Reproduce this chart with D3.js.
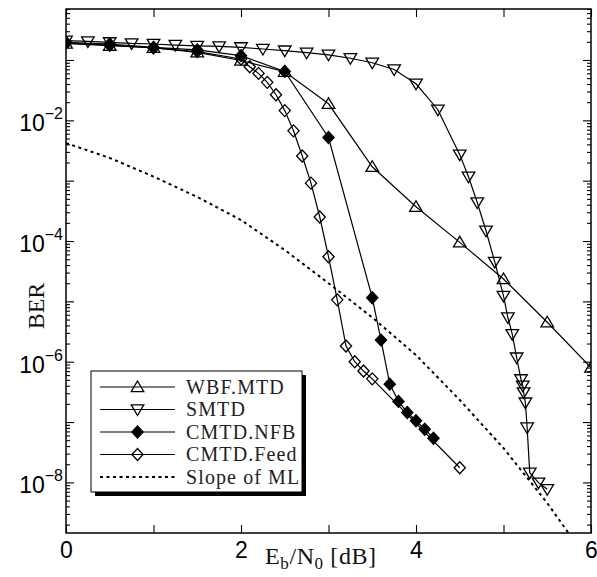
<!DOCTYPE html>
<html>
<head>
<meta charset="utf-8">
<script src="https://cdn.jsdelivr.net/npm/d3@7"></script>
<style>
  body { margin: 0; background: #fff; }
  svg { display: block; }
</style>
</head>
<body>
<div id="chart"></div>
<script>
// data (Eb/N0 in dB, BER)
const wbfSnr = [0, 0.5, 1, 1.5, 2, 2.5, 3, 3.5, 4, 4.5, 5, 5.5, 6];
const wbfBer = [0.188, 0.173, 0.16, 0.134, 0.098, 0.064, 0.0188, 1.7e-3, 3.7e-4, 9.5e-5, 2.35e-5, 4.5e-6, 8e-7];

const smtdSnr = [0, 0.25, 0.5, 0.75, 1, 1.25, 1.5, 1.75, 2, 2.25, 2.5, 2.75, 3, 3.25, 3.5, 3.75, 4, 4.25, 4.5,
  4.6, 4.7, 4.8, 4.9, 5.0, 5.05, 5.1, 5.15, 5.2, 5.22, 5.23, 5.25, 5.27, 5.3, 5.4, 5.5];
const smtdBer = [0.209, 0.203, 0.196, 0.188, 0.184, 0.177, 0.171, 0.168, 0.162, 0.152, 0.143, 0.132, 0.122, 0.107, 0.090, 0.0696, 0.0404, 0.015, 2.7e-3,
  1.16e-3, 4.35e-4, 1.48e-4, 4.5e-5, 1.23e-5, 5.4e-6, 2.86e-6, 1.17e-6, 5.1e-7, 4.0e-7, 3.1e-7, 2.1e-7, 8.1e-8, 1.45e-8, 9.9e-9, 7.7e-9];

const nfbSnr = [0, 0.5, 1, 1.5, 2, 2.5, 3, 3.5, 3.6, 3.7, 3.8, 3.9, 4.0, 4.1, 4.2];
const nfbBer = [0.196, 0.184, 0.162, 0.147, 0.118, 0.0647, 5.2e-3, 1.15e-5, 2.28e-6, 4.25e-7, 2.2e-7, 1.44e-7, 1.05e-7, 7.6e-8, 5.4e-8];

const feedSnr = [0, 0.5, 1, 1.5, 2, 2.1, 2.2, 2.3, 2.4, 2.5, 2.6, 2.7, 2.8, 2.9, 3.0, 3.1, 3.2, 3.3, 3.4, 3.5, 4.5];
const feedBer = [0.19, 0.176, 0.158, 0.138, 0.104, 0.0774, 0.06, 0.0426, 0.0266, 0.0145, 6.7e-3, 2.57e-3, 9.1e-4, 2.5e-4, 5.5e-5, 1.06e-5, 1.82e-6, 1.0e-6, 7.0e-7, 5.2e-7, 1.75e-8];

const mlSnr = [0, 0.5, 1, 1.5, 2, 2.5, 3, 3.5, 4, 4.5, 5, 5.5, 6];
const mlBer = [4.2e-3, 2.38e-3, 1.17e-3, 5.37e-4, 2.23e-4, 7.1e-5, 2.0e-5, 5.4e-6, 1.29e-6, 2.32e-7, 3.7e-8, 4.55e-9, 4.3e-10];

const seriesNames = ["WBF.MTD", "SMTD", "CMTD.NFB", "CMTD.Feed", "Slope of ML"];
const xTicks = [0, 1, 2, 3, 4, 5, 6];
const xTickLabels = ["0", "", "2", "", "4", "", "6"];
const yMajor = [1e-1, 1e-2, 1e-3, 1e-4, 1e-5, 1e-6, 1e-7, 1e-8];
const yLabelExps = [-2, -4, -6, -8];

const width = 597, height = 577;
const svg = d3.select("#chart").append("svg")
    .attr("width", width)
    .attr("height", height);

const x = d3.scaleLinear().domain([0, 6]).range([66, 591]);
const y = d3.scaleLog().domain([1.45e-9, 0.7]).range([533, 9]);

// clip for the lines
svg.append("clipPath").attr("id", "plotclip")
    .append("rect")
    .attr("x", 66).attr("y", 9)
    .attr("width", 525).attr("height", 524);

// marker shapes
const triUp = "M0,-6L6.3,4.6L-6.3,4.6Z";
const triDown = "M0,6L6.3,-4.6L-6.3,-4.6Z";
const diamond = "M0,-6L5.6,0L0,6L-5.6,0Z";

const series = [
    { snr: wbfSnr, ber: wbfBer, shape: triUp, fill: "none", dash: null },
    { snr: smtdSnr, ber: smtdBer, shape: triDown, fill: "none", dash: null },
    { snr: nfbSnr, ber: nfbBer, shape: diamond, fill: "#000", dash: null },
    { snr: feedSnr, ber: feedBer, shape: diamond, fill: "none", dash: null },
    { snr: mlSnr, ber: mlBer, shape: null, fill: "none", dash: "3,3.5" }
];

const line = d3.line()
    .x(d => x(d[0]))
    .y(d => y(d[1]));

const plot = svg.append("g").attr("clip-path", "url(#plotclip)");

series.forEach(s => {
    const pts = s.snr.map((v, i) => [v, s.ber[i]]);
    plot.append("path")
        .datum(pts)
        .attr("d", line)
        .attr("fill", "none")
        .attr("stroke", "#000")
        .attr("stroke-width", s.dash ? 2 : 1.2)
        .attr("stroke-dasharray", s.dash);
    if (s.shape) {
        plot.selectAll(null)
            .data(pts)
            .enter()
            .append("path")
            .attr("d", s.shape)
            .attr("transform", d => `translate(${x(d[0])},${y(d[1])})`)
            .attr("fill", s.fill)
            .attr("stroke", "#000")
            .attr("stroke-width", 1.3);
    }
});

// axes (ticks point inward)
const minor = y.ticks().filter(v => !yMajor.some(m => Math.abs(m - v) / m < 1e-6));

function styleAxis(g) {
    g.select(".domain").remove();
    g.selectAll(".tick line").attr("stroke", "#000").attr("stroke-width", 1.1);
}

svg.append("g")
    .attr("transform", "translate(0,533)")
    .call(d3.axisBottom(x).tickValues(xTicks).tickSize(-8).tickPadding(9)
        .tickFormat((d, i) => xTickLabels[i]))
    .call(styleAxis)
    .call(g => g.selectAll("text")
        .attr("font-family", "'Liberation Sans', Arial, sans-serif")
        .attr("font-size", 23)
        .attr("fill", "#000"));

svg.append("g")
    .attr("transform", "translate(0,9)")
    .call(d3.axisTop(x).tickValues(xTicks).tickSize(-8).tickFormat(""))
    .call(styleAxis);

[[66, d3.axisLeft], [591, d3.axisRight]].forEach(([px, ax]) => {
    svg.append("g")
        .attr("transform", `translate(${px},0)`)
        .call(ax(y).tickValues(yMajor).tickSize(-8).tickFormat(""))
        .call(styleAxis);
    svg.append("g")
        .attr("transform", `translate(${px},0)`)
        .call(ax(y).tickValues(minor).tickSize(-4).tickFormat(""))
        .call(styleAxis);
});

// y tick labels 10^-n
yLabelExps.forEach(e => {
    const t = svg.append("text")
        .attr("x", 63)
        .attr("y", y(Math.pow(10, e)) + 11)
        .attr("text-anchor", "end")
        .attr("font-family", "'Liberation Sans', Arial, sans-serif")
        .attr("font-size", 23)
        .attr("fill", "#000");
    t.append("tspan").text("10");
    t.append("tspan").attr("dy", -12).attr("font-size", 16).text("\u2212" + Math.abs(e));
});

// frame
svg.append("rect")
    .attr("x", 66).attr("y", 9)
    .attr("width", 525).attr("height", 524)
    .attr("fill", "none")
    .attr("stroke", "#000")
    .attr("stroke-width", 1.5);

// axis titles
const serif = "'Liberation Serif', 'Times New Roman', serif";
const xl = svg.append("text")
    .attr("x", 265).attr("y", 564)
    .attr("font-family", serif)
    .attr("font-size", 24)
    .attr("letter-spacing", 0.6)
    .attr("fill", "#111");
xl.append("tspan").text("E");
xl.append("tspan").attr("dy", 5).attr("font-size", 17).text("b");
xl.append("tspan").attr("dy", -5).text("/N");
xl.append("tspan").attr("dy", 5).attr("font-size", 17).text("0");
xl.append("tspan").attr("dy", -5).text(" [dB]");

svg.append("text")
    .attr("transform", "translate(44,306) rotate(-90)")
    .attr("text-anchor", "middle")
    .attr("font-family", serif)
    .attr("font-size", 24)
    .attr("fill", "#111")
    .text("BER");

// legend
const lg = svg.append("g").attr("transform", "translate(91,371)");
lg.append("rect")
    .attr("x", 4).attr("y", 4)
    .attr("width", 211).attr("height", 121)
    .attr("fill", "#000");
lg.append("rect")
    .attr("width", 211).attr("height", 121)
    .attr("fill", "#fff")
    .attr("stroke", "#000")
    .attr("stroke-width", 1);

const rowY = d3.scalePoint().domain(seriesNames).range([16, 106]);
seriesNames.forEach((name, i) => {
    const s = series[i];
    const row = lg.append("g").attr("transform", `translate(0,${rowY(name)})`);
    row.append("line")
        .attr("x1", 9).attr("x2", 84)
        .attr("stroke", "#000")
        .attr("stroke-width", s.dash ? 2 : 1.2)
        .attr("stroke-dasharray", s.dash);
    if (s.shape) {
        row.append("path")
            .attr("d", s.shape)
            .attr("transform", "translate(46.5,0)")
            .attr("fill", s.fill)
            .attr("stroke", "#000")
            .attr("stroke-width", 1.3);
    }
    row.append("text")
        .attr("x", 95).attr("y", 6.5)
        .attr("font-family", serif)
        .attr("font-size", 20)
        .attr("letter-spacing", 1.1)
        .attr("fill", "#222")
        .text(name);
});
</script>
</body>
</html>
